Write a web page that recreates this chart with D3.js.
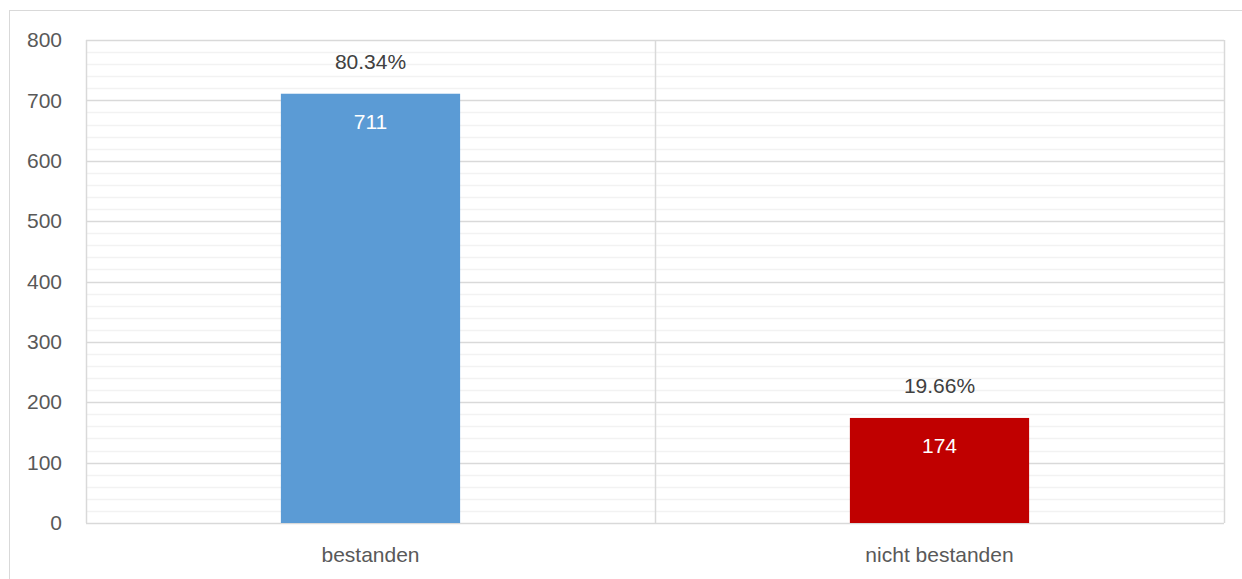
<!DOCTYPE html>
<html>
<head>
<meta charset="utf-8">
<script src="https://cdn.jsdelivr.net/npm/d3@7"></script>
<style>
  body { margin: 0; background: #fff; }
  text { font-family: "Liberation Sans", Arial, sans-serif; }
</style>
</head>
<body>
<svg id="chart"></svg>
<script>
// data
const categories = ["bestanden", "nicht bestanden"];
const counts = [711, 174];
const percents = ["80.34%", "19.66%"];
const barColors = ["#5B9BD5", "#C00000"];
const yTicks = [0, 100, 200, 300, 400, 500, 600, 700, 800];

const W = 1242, H = 579;
const margin = { top: 40, right: 18, bottom: 56, left: 86 };
const innerW = W - margin.left - margin.right;
const innerH = H - margin.top - margin.bottom;
const fontSize = 21;

const svg = d3.select("#chart").attr("width", W).attr("height", H);

// outer frame
svg.append("rect")
   .attr("x", 9.5).attr("y", 10.5)
   .attr("width", W).attr("height", H)
   .attr("fill", "none").attr("stroke", "#d9d9d9");

const g = svg.append("g").attr("transform", `translate(${margin.left},${margin.top})`);

const x = d3.scaleBand().domain(categories).range([0, innerW]).paddingInner(0).paddingOuter(0);
const y = d3.scaleLinear().domain([0, 800]).range([innerH, 0]);

// minor gridlines
g.selectAll(".minor")
 .data(d3.range(0, 801, 20).filter(v => v % 100 !== 0))
 .enter().append("line")
 .attr("x1", 0).attr("x2", innerW)
 .attr("y1", d => Math.round(y(d)) + 0.5).attr("y2", d => Math.round(y(d)) + 0.5)
 .attr("stroke", "#f2f2f2").attr("stroke-width", 1.5);

// major gridlines
g.selectAll(".major")
 .data(yTicks)
 .enter().append("line")
 .attr("x1", 0).attr("x2", innerW)
 .attr("y1", d => Math.round(y(d)) + 0.5).attr("y2", d => Math.round(y(d)) + 0.5)
 .attr("stroke", "#d9d9d9").attr("stroke-width", 1.5);

// vertical lines: plot edges and category divider
const vx = [0, ...categories.slice(1).map(c => x(c)), innerW];
g.selectAll(".vline")
 .data(vx)
 .enter().append("line")
 .attr("x1", d => Math.round(d) + 0.5).attr("x2", d => Math.round(d) + 0.5)
 .attr("y1", 0).attr("y2", innerH)
 .attr("stroke", "#d9d9d9").attr("stroke-width", 1.5);

// y axis labels
const yAxis = d3.axisLeft(y).tickValues(yTicks).tickSize(0).tickPadding(24);
const ya = g.append("g").call(yAxis);
ya.select(".domain").remove();
ya.selectAll("text").attr("font-size", fontSize).attr("fill", "#595959")
  .style("font-family", "Liberation Sans, Arial, sans-serif");

// x axis labels
const xAxis = d3.axisBottom(x).tickSize(0).tickPadding(24);
const xa = g.append("g").attr("transform", `translate(0,${innerH})`).call(xAxis);
xa.select(".domain").remove();
xa.selectAll("text").attr("font-size", fontSize).attr("fill", "#595959")
  .style("font-family", "Liberation Sans, Arial, sans-serif");

// bars
const barW = x.bandwidth() * 0.315;
g.selectAll(".bar")
 .data(categories)
 .enter().append("rect")
 .attr("x", (d) => x(d) + (x.bandwidth() - barW) / 2)
 .attr("y", (d, i) => y(counts[i]))
 .attr("width", barW)
 .attr("height", (d, i) => innerH - y(counts[i]))
 .attr("fill", (d, i) => barColors[i]);

// value labels inside bars
g.selectAll(".val")
 .data(categories)
 .enter().append("text")
 .attr("x", d => x(d) + x.bandwidth() / 2)
 .attr("y", (d, i) => y(counts[i]) + 28)
 .attr("dy", "0.35em")
 .attr("text-anchor", "middle")
 .attr("font-size", fontSize)
 .attr("fill", "#ffffff")
 .text((d, i) => counts[i]);

// percent labels above bars
g.selectAll(".pct")
 .data(categories)
 .enter().append("text")
 .attr("x", d => x(d) + x.bandwidth() / 2)
 .attr("y", (d, i) => y(counts[i]) - 32)
 .attr("dy", "0.35em")
 .attr("text-anchor", "middle")
 .attr("font-size", fontSize)
 .attr("fill", "#404040")
 .text((d, i) => percents[i]);
</script>
</body>
</html>
